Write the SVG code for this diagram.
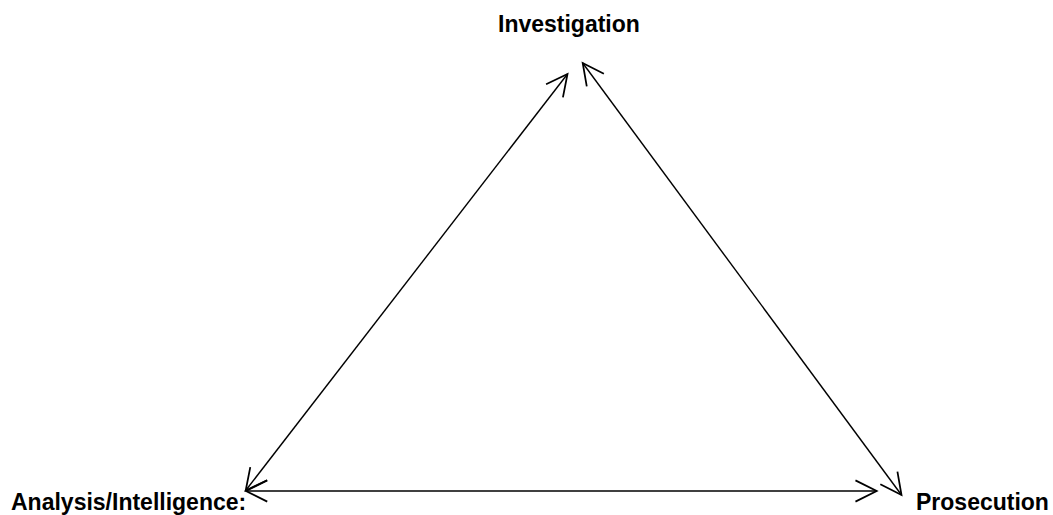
<svg xmlns="http://www.w3.org/2000/svg" width="1053" height="515" viewBox="0 0 1053 515">
<style>
.lbl{font-family:"Liberation Sans",Arial,sans-serif;font-weight:bold;font-size:23px;fill:#000}
.edge{stroke:#000;stroke-width:1.4;fill:none;marker-start:url(#ah);marker-end:url(#ah)}
</style>
<defs>
<marker id="ah" markerUnits="userSpaceOnUse" markerWidth="30" markerHeight="30" refX="17" refY="0" viewBox="-2 -12 22 24" orient="auto-start-reverse" overflow="visible">
<path d="M0,-8.5 L17,0 L0,8.5" fill="none" stroke="#000" stroke-width="1.4"/>
</marker>
</defs>
<rect width="1053" height="515" fill="#fff"/>
<g id="connectors">
<line class="edge" x1="245.7" y1="490.5" x2="567.5" y2="74"/>
<line class="edge" x1="582.7" y1="63" x2="901.5" y2="495"/>
<line class="edge" x1="246" y1="491" x2="876.7" y2="491"/>
</g>
<g id="investigation"><text class="lbl" x="498" y="31.5">Investigation</text></g>
<g id="analysis"><text class="lbl" x="11" y="509.5">Analysis/Intelligence:</text></g>
<g id="prosecution"><text class="lbl" x="916" y="510">Prosecution</text></g>
</svg>
